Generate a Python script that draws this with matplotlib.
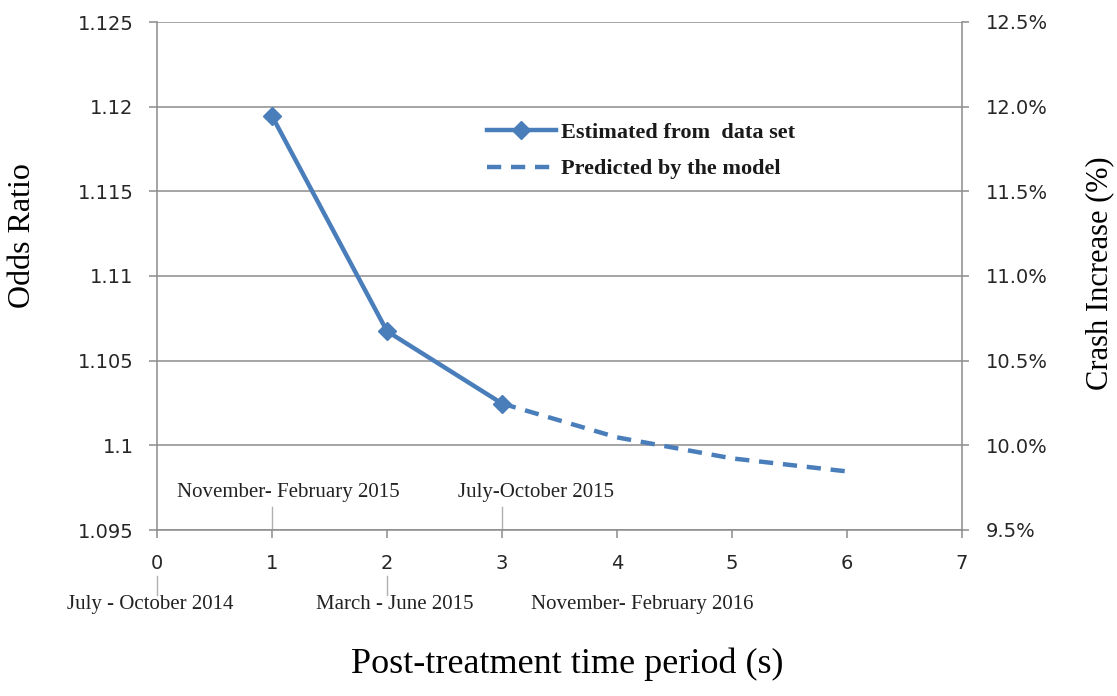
import numpy as np
import matplotlib
matplotlib.use('Agg')
import matplotlib.pyplot as plt
from matplotlib.ticker import FuncFormatter
import matplotlib.transforms as mtransforms

# data
est_x = [1, 2, 3]
est_y = [1.11945, 1.10674, 1.10247]
pred_x = [3, 4, 5, 6]
pred_y = [1.10247, 1.10047, 1.09923, 1.09846]
est_label = 'Estimated from  data set'
pred_label = 'Predicted by the model'

xticks = [0, 1, 2, 3, 4, 5, 6, 7]
yticks = [1.095, 1.1, 1.105, 1.11, 1.115, 1.12, 1.125]
pct_ticks = [0.095, 0.10, 0.105, 0.11, 0.115, 0.12, 0.125]

# period names under/over the time axis
upper_periods = ['November- February 2015', 'July-October 2015']
upper_ticks = [1, 3]
lower_periods = ['July - October 2014', 'March - June 2015', 'November- February 2016']
lower_ticks = [0, 2]

blue = '#4a7ebb'
gray = '#8c8c8c'
txt = '#262626'
serif = ['Liberation Serif', 'DejaVu Serif']

fig = plt.figure(figsize=(11.17, 6.96), dpi=100)
W, H = 1117, 696
ax = fig.add_axes([157/W, 1 - 530/H, (962 - 157)/W, (530 - 22)/H])

ax.plot(est_x, est_y, color=blue, lw=3.2, marker='D', ms=9, label=est_label,
        solid_joinstyle='round', zorder=5)
ax.plot(pred_x, pred_y, color=blue, lw=3.2, ls=(0, (3.2, 2.2)), label=pred_label,
        dash_capstyle='butt', zorder=5)

ax.set_xlim(0, 7)
ax.set_ylim(1.095, 1.125)
ax.set_xticks(xticks)
ax.set_yticks(yticks)
ax.yaxis.set_major_formatter(FuncFormatter(lambda v, p: ('%.3f' % v).rstrip('0').rstrip('.')))
ax.grid(axis='y', color=gray, lw=1.1)
ax.set_axisbelow(True)
for s in ('left', 'bottom'):
    ax.spines[s].set_color(gray)
    ax.spines[s].set_linewidth(1.1)
ax.spines['top'].set_visible(False)
ax.spines['right'].set_visible(False)
ax.tick_params(axis='y', direction='out', length=6, width=1.1, color=gray,
               labelsize=14, labelcolor=txt, pad=11)
ax.tick_params(axis='x', direction='out', length=6, width=1.1, color=gray,
               labelsize=14, labelcolor=txt, pad=11)

# right hand axis in percent
ax2 = ax.twinx()
ax2.set_ylim(0.095, 0.125)
ax2.set_yticks(pct_ticks)
ax2.yaxis.set_major_formatter(FuncFormatter(lambda v, p: '%.1f%%' % (v*100)))
for s in ('left', 'bottom', 'top'):
    ax2.spines[s].set_visible(False)
ax2.spines['right'].set_color(gray)
ax2.spines['right'].set_linewidth(1.1)
ax2.tick_params(axis='y', direction='out', length=5, width=1.1, color=gray,
                labelsize=14, labelcolor=txt, pad=12)

# axis titles
fig.text(23/W, 1 - 236/H, 'Odds Ratio', rotation=90, ha='center', va='center',
         fontsize=23, family=serif)
fig.text(1100/W, 1 - 273/H, 'Crash Increase (%)', rotation=90, ha='center', va='center',
         fontsize=22, family=serif)
fig.text(567/W, 1 - 664/H, 'Post-treatment time period (s)', ha='center', va='center',
         fontsize=26, family=serif)

# period labels and their leader lines
trans = mtransforms.blended_transform_factory(ax.transData, ax.transAxes)
for xt in upper_ticks:
    ax.plot([xt, xt], [0, 0.045], color='#b0b0b0', lw=1, transform=trans, clip_on=False)
for xt in lower_ticks:
    ax.plot([xt, xt], [-0.09, -0.128], color='#b0b0b0', lw=1, transform=trans, clip_on=False)
for lab, xc in zip(upper_periods, [1.14, 3.3]):
    ax.text(xc, 0.073, lab, transform=trans, ha='center', va='center',
            fontsize=15, family=serif, color='#222222')
for lab, xc in zip(lower_periods, [-0.06, 2.07, 4.22]):
    ax.text(xc, -0.147, lab, transform=trans, ha='center', va='center',
            fontsize=15, family=serif, color='#222222')

leg = ax.legend(loc='center left', bbox_to_anchor=(487/W, 1 - 151/H),
                bbox_transform=fig.transFigure, frameon=False, borderpad=0,
                borderaxespad=0, handlelength=3.1, handletextpad=0.25,
                labelspacing=0.7, prop={'family': serif, 'size': 16, 'weight': 'bold'})
for t in leg.get_texts():
    t.set_color('#1a1a1a')

fig.savefig('out.png', dpi=100)
